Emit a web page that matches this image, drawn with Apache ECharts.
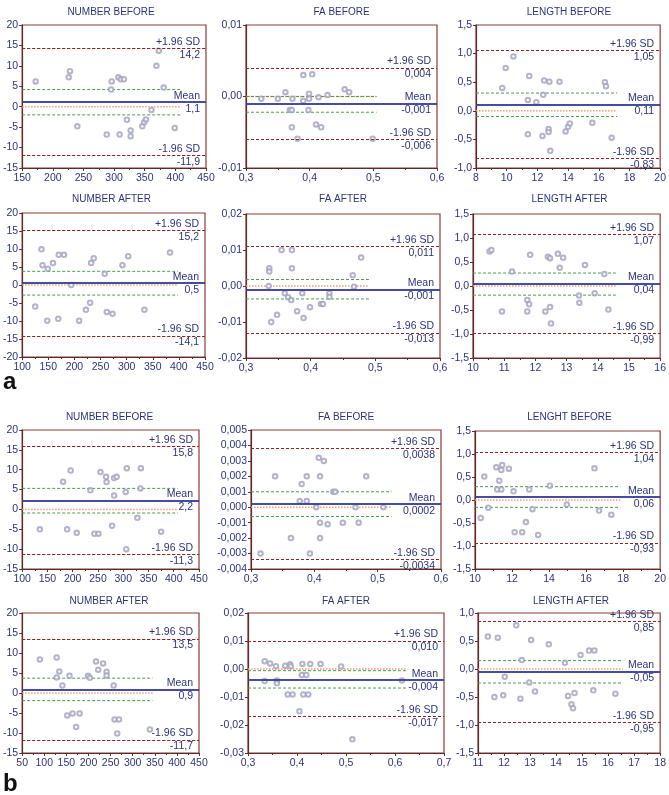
<!DOCTYPE html>
<html><head><meta charset="utf-8">
<script src="https://cdn.jsdelivr.net/npm/echarts@6/dist/echarts.min.js"></script>
<style>html,body{margin:0;padding:0;background:#fff}#c{width:669px;height:795px}</style>
</head><body><div id="c"></div>
<script>
// ================= DATA =================
const titles = ['NUMBER BEFORE','FA BEFORE','LENGTH BEFORE','NUMBER AFTER','FA AFTER','LENGTH AFTER',
                'NUMBER BEFORE','FA BEFORE','LENGHT BEFORE','NUMBER AFTER','FA AFTER','LENGTH AFTER'];
const panelLetters = ['a','b'];
const limitNames = ['+1.96 SD','Mean','-1.96 SD'];

// (a) NUMBER BEFORE
const aNumBefore_x = [172,228,226,240,288,295,296,307,311,316,309,321,327,327,346,349,352,361,369,373,381,399];
const aNumBefore_y = [6.2,8.7,7.2,-4.8,-6.8,4.2,6.2,7.2,6.7,6.7,-6.8,-3.2,-5.8,-7.2,-4.8,-3.8,-3.1,-0.8,10.0,13.7,4.7,-5.2];
const aNumBefore_lim = [14.2,1.1,-11.9];
const aNumBefore_ci = [4.2,-2.0];
const aNumBefore_ciEnd = 410;
const aNumBefore_xTicks = [150,450,50];
const aNumBefore_yTicks = [-15,20,5];

// (a) FA BEFORE
const aFaBefore_x = [0.324,0.350,0.362,0.373,0.369,0.372,0.372,0.381,0.390,0.390,0.398,0.399,0.399,0.404,0.410,0.418,0.414,0.428,0.455,0.462,0.499];
const aFaBefore_y = [-0.0003,-0.0003,0.0006,-0.0003,-0.0019,-0.0019,-0.0043,-0.0059,0.0030,-0.0006,-0.0019,0.0004,-0.0003,0.0031,-0.0039,-0.0043,-0.0001,0.0002,0.0010,0.0006,-0.0059];
const aFaBefore_lim = [0.004,-0.001,-0.006];
const aFaBefore_ci = [0.0000,-0.0022];
const aFaBefore_ciEnd = 0.505;
const aFaBefore_xTicks = [0.3,0.6,0.1];
const aFaBefore_yTicks = [-0.01,0.01,0.01];

// (a) LENGTH BEFORE
const aLenBefore_x = [9.71,9.93,10.44,11.38,11.47,11.38,11.93,12.38,12.44,12.33,12.73,12.73,12.78,12.84,13.44,13.84,14.0,14.11,15.58,16.4,16.47,16.84];
const aLenBefore_y = [0.40,0.75,0.95,0.19,0.61,-0.41,0.15,0.28,0.53,-0.44,-0.32,-0.37,0.51,-0.70,0.51,-0.36,-0.28,-0.22,-0.21,0.50,0.43,-0.47];
const aLenBefore_lim = [1.05,0.11,-0.83];
const aLenBefore_ci = [0.31,-0.10];
const aLenBefore_ciEnd = 17.2;
const aLenBefore_xTicks = [8,20,2];
const aLenBefore_yTicks = [-1.0,1.5,0.5];

// (a) NUMBER AFTER
const aNumAfter_x = [125,137,139,148,149,159,169,170,180,194,209,222,230,232,237,258,262,273,292,303,334,383];
const aNumAfter_y = [-6.0,9.9,5.5,-9.9,4.5,6.1,-9.4,8.4,8.4,0,-9.9,-6.9,-4.9,6.1,7.4,3.1,-7.5,-8.0,5.5,8.0,-6.9,9.0];
const aNumAfter_lim = [15.2,0.5,-14.1];
const aNumAfter_ci = [3.8,-2.8];
const aNumAfter_ciEnd = 398;
const aNumAfter_xTicks = [100,450,50];
const aNumAfter_yTicks = [-20,20,5];

// (a) FA AFTER
const aFaAfter_x = [0.335,0.336,0.336,0.339,0.348,0.355,0.360,0.365,0.370,0.371,0.371,0.379,0.387,0.389,0.399,0.416,0.419,0.429,0.429,0.465,0.467,0.478];
const aFaAfter_y = [0,0.0049,0.0040,-0.0100,-0.0080,0.0100,-0.0020,-0.0031,-0.0039,0.0049,0.0100,-0.0070,-0.0020,-0.0089,-0.0059,-0.0050,-0.0050,-0.0020,-0.0030,0.0030,-0.0002,0.0079];
const aFaAfter_lim = [0.011,-0.001,-0.013];
const aFaAfter_ci = [0.0018,-0.0036];
const aFaAfter_ciEnd = 0.49;
const aFaAfter_xTicks = [0.3,0.6,0.1];
const aFaAfter_yTicks = [-0.02,0.02,0.01];

// (a) LENGTH AFTER
const aLenAfter_x = [10.53,10.59,10.93,11.25,11.74,11.74,11.80,11.83,12.32,12.40,12.47,12.47,12.50,12.72,12.78,12.89,13.40,13.41,13.59,13.90,14.21,14.34];
const aLenAfter_y = [0.72,0.75,-0.53,0.30,-0.29,-0.53,-0.38,0.65,-0.53,0.61,0.58,-0.44,-0.78,0.67,0.38,0.59,-0.20,-0.35,0.44,-0.15,0.25,-0.49];
const aLenAfter_lim = [1.07,0.04,-0.99];
const aLenAfter_ci = [0.27,-0.19];
const aLenAfter_ciEnd = 14.58;
const aLenAfter_xTicks = [10,16,1];
const aLenAfter_yTicks = [-1.5,1.5,0.5];

// (b) NUMBER BEFORE
const bNumBefore_x = [135,181,189,196,208,235,243,251,255,266,267,278,282,282,287,305,307,306,328,335,334,375];
const bNumBefore_y = [-5.0,7.0,-5.0,9.8,-5.9,4.8,-6.1,-6.1,9.4,8.2,6.9,-4.1,7.9,3.5,8.2,4.4,10.4,-10.0,-2.1,10.4,5.3,-5.6];
const bNumBefore_lim = [15.8,2.2,-11.3];
const bNumBefore_ci = [5.3,-0.9];
const bNumBefore_ciEnd = 408;
const bNumBefore_xTicks = [100,450,50];
const bNumBefore_yTicks = [-15,20,5];

// (b) FA BEFORE
const bFaBefore_x = [0.315,0.338,0.363,0.377,0.380,0.388,0.388,0.393,0.403,0.407,0.409,0.409,0.409,0.415,0.421,0.430,0.433,0.445,0.465,0.470,0.482,0.509];
const bFaBefore_y = [-0.0030,0.0020,-0.0020,0.0004,0.0015,0.0020,0.0004,-0.0030,0.0000,0.0032,-0.0010,-0.0020,0.0020,0.0030,-0.0011,0.0010,0.0010,-0.0010,0.0000,-0.0010,0.0020,0.0000];
const bFaBefore_lim = [0.0038,0.0002,-0.0034];
const bFaBefore_ci = [0.0010,-0.0006];
const bFaBefore_ciEnd = 0.522;
const bFaBefore_xTicks = [0.3,0.6,0.1];
const bFaBefore_yTicks = [-0.004,0.005,0.001];

// (b) LENGHT BEFORE
const bLenBefore_x = [10.31,10.50,10.72,11.15,11.20,11.31,11.42,11.42,11.47,11.83,12.08,12.14,12.55,12.75,12.93,13.10,13.41,14.04,14.96,16.45,16.70,17.36];
const bLenBefore_y = [-0.39,0.51,-0.17,0.71,0.23,0.42,0.23,0.65,0.76,0.68,0.19,-0.70,-0.70,-0.48,0.23,-0.20,-0.76,0.31,-0.10,0.69,-0.23,-0.32];
const bLenBefore_lim = [1.04,0.06,-0.93];
const bLenBefore_ci = [0.29,-0.16];
const bLenBefore_ciEnd = 17.85;
const bLenBefore_xTicks = [10,20,2];
const bLenBefore_yTicks = [-1.5,1.5,0.5];

// (b) NUMBER AFTER
const bNumAfter_x = [90,128,134,128,141,157,199,203,217,222,233,241,241,257,152,164,180,172,259,269,265,339];
const bNumAfter_y = [8.4,8.9,5.4,3.9,1.9,4.3,4.3,3.8,7.9,5.8,7.4,5.3,4.4,1.9,-5.6,-5.1,-5.1,-8.5,-6.6,-6.6,-10.1,-9.1];
const bNumAfter_lim = [13.5,0.9,-11.7];
const bNumAfter_ci = [3.7,-1.9];
const bNumAfter_ciEnd = 345;
const bNumAfter_xTicks = [50,450,50];
const bNumAfter_yTicks = [-15,20,5];

// (b) FA AFTER
const bFaAfter_x = [0.334,0.345,0.357,0.376,0.386,0.387,0.411,0.427,0.448,0.490,0.334,0.359,0.359,0.410,0.419,0.381,0.391,0.413,0.423,0.405,0.513,0.614];
const bFaAfter_y = [0.0028,0.0020,0.0010,0.0012,0.0017,0.0010,0.0018,0.0018,0.0018,0.0009,-0.0043,-0.0041,-0.0051,-0.0021,-0.0021,-0.0091,-0.0091,-0.0091,-0.0091,-0.0151,-0.0251,-0.0041];
const bFaAfter_lim = [0.010,-0.004,-0.017];
const bFaAfter_ci = [-0.0006,-0.0068];
const bFaAfter_ciEnd = 0.625;
const bFaAfter_xTicks = [0.3,0.7,0.1];
const bFaAfter_yTicks = [-0.03,0.02,0.01];

// (b) LENGTH AFTER
const bLenAfter_x = [11.38,11.76,11.63,11.97,12.03,12.47,12.63,12.68,12.97,13.04,13.19,13.72,14.34,14.46,14.59,14.65,14.71,14.94,15.27,15.47,15.43,16.28];
const bLenAfter_y = [0.58,0.56,-0.50,-0.47,-0.14,0.78,-0.53,0.16,-0.24,0.52,-0.40,0.44,0.11,-0.48,-0.63,-0.70,-0.43,0.25,0.33,0.33,-0.38,-0.44];
const bLenAfter_lim = [0.85,-0.05,-0.95];
const bLenAfter_ci = [0.15,-0.25];
const bLenAfter_ciEnd = 16.57;
const bLenAfter_xTicks = [11,18,1];
const bLenAfter_yTicks = [-1.5,1.0,0.5];

// label decimals: [x axis, y axis, limit values]
const decimals = [[0,0,1],[1,2,3],[0,1,2],[0,0,1],[1,2,3],[0,1,2],[0,0,1],[1,3,4],[0,1,2],[0,0,1],[1,2,3],[0,1,2]];

const panels = [
  [aNumBefore_x,aNumBefore_y,aNumBefore_lim,aNumBefore_ci,aNumBefore_ciEnd,aNumBefore_xTicks,aNumBefore_yTicks],
  [aFaBefore_x,aFaBefore_y,aFaBefore_lim,aFaBefore_ci,aFaBefore_ciEnd,aFaBefore_xTicks,aFaBefore_yTicks],
  [aLenBefore_x,aLenBefore_y,aLenBefore_lim,aLenBefore_ci,aLenBefore_ciEnd,aLenBefore_xTicks,aLenBefore_yTicks],
  [aNumAfter_x,aNumAfter_y,aNumAfter_lim,aNumAfter_ci,aNumAfter_ciEnd,aNumAfter_xTicks,aNumAfter_yTicks],
  [aFaAfter_x,aFaAfter_y,aFaAfter_lim,aFaAfter_ci,aFaAfter_ciEnd,aFaAfter_xTicks,aFaAfter_yTicks],
  [aLenAfter_x,aLenAfter_y,aLenAfter_lim,aLenAfter_ci,aLenAfter_ciEnd,aLenAfter_xTicks,aLenAfter_yTicks],
  [bNumBefore_x,bNumBefore_y,bNumBefore_lim,bNumBefore_ci,bNumBefore_ciEnd,bNumBefore_xTicks,bNumBefore_yTicks],
  [bFaBefore_x,bFaBefore_y,bFaBefore_lim,bFaBefore_ci,bFaBefore_ciEnd,bFaBefore_xTicks,bFaBefore_yTicks],
  [bLenBefore_x,bLenBefore_y,bLenBefore_lim,bLenBefore_ci,bLenBefore_ciEnd,bLenBefore_xTicks,bLenBefore_yTicks],
  [bNumAfter_x,bNumAfter_y,bNumAfter_lim,bNumAfter_ci,bNumAfter_ciEnd,bNumAfter_xTicks,bNumAfter_yTicks],
  [bFaAfter_x,bFaAfter_y,bFaAfter_lim,bFaAfter_ci,bFaAfter_ciEnd,bFaAfter_xTicks,bFaAfter_yTicks],
  [bLenAfter_x,bLenAfter_y,bLenAfter_lim,bLenAfter_ci,bLenAfter_ciEnd,bLenAfter_xTicks,bLenAfter_yTicks]
];

// ================= LAYOUT / STYLE =================
const boxes = [ // left, top, right, bottom
  [16,25,206,168],[246,25,437,168],[476,25,662,168],
  [18,213,205,357],[246,214,440,358],[473,214,666,358],
  [20,430,199,569],[251,430,441,569],[475,431,664,569],
  [19,613,199,753],[248,613,444,753],[478,613,664,753]
];
const titleY = [12,199,417,601];
const letterPos = [[3,382],[3,784]];
const FONT = '"Liberation Sans", Arial, sans-serif';
const TXT = '#2b3478';
const AX = '#5e2a2a';

function fmt(v, d) {
  if (Math.abs(v) < 1e-12) v = 0;
  return v.toFixed(d).replace('.', ',');
}

const option = {animation:false, backgroundColor:'#ffffff', grid:[], xAxis:[], yAxis:[], series:[], graphic:[]};

panels.forEach((p, i) => {
  const [xs, ys, lim, ci, ciEnd, xt, yt] = p;
  const b = boxes[i];
  const d = decimals[i];
  option.grid.push({left:b[0], top:b[1], width:b[2]-b[0], height:b[3]-b[1], show:true,
    borderColor:'#8a3b35', borderWidth:1.2, backgroundColor:'rgba(0,0,0,0)'});
  option.xAxis.push({type:'value', gridIndex:i, min:xt[0], max:xt[1], interval:xt[2],
    splitLine:{show:false},
    axisLine:{onZero:false, lineStyle:{color:AX, width:1.2}},
    axisTick:{length:3, lineStyle:{color:AX}},
    minorTick:{show:true, splitNumber:2, length:2, lineStyle:{color:AX}},
    axisLabel:{fontSize:10.5, color:TXT, margin:5, fontFamily:FONT, showMinLabel:true, showMaxLabel:true,
      formatter:(v)=>fmt(v, d[0])}});
  option.yAxis.push({type:'value', gridIndex:i, min:yt[0], max:yt[1], interval:yt[2],
    splitLine:{show:false},
    axisLine:{onZero:false, lineStyle:{color:AX, width:1.2}},
    axisTick:{length:3, lineStyle:{color:AX}},
    axisLabel:{fontSize:10.5, color:TXT, margin:4, fontFamily:FONT, showMinLabel:true, showMaxLabel:true,
      formatter:(v)=>fmt(v, d[1])}});

  const lab = (text, pos) => ({show:true, position:pos, formatter:text, color:TXT, fontSize:10.5,
    fontFamily:FONT, distance:[6,1]});
  const sdStyle = {color:'#8c2626', width:1.2, type:[3,2]};
  const meanStyle = {color:'#3a3f9e', width:1.6, type:'solid'};
  const mlData = [];
  lim.forEach((v, k) => {
    const st = k === 1 ? meanStyle : sdStyle;
    mlData.push({yAxis:v, lineStyle:st, label:lab(limitNames[k], 'insideEndTop')});
    mlData.push({yAxis:v, lineStyle:st, label:lab(fmt(v, d[2]), 'insideEndBottom')});
  });

  // zero line (dotted orange)
  option.series.push({type:'line', xAxisIndex:i, yAxisIndex:i, silent:true, symbol:'none', z:2,
    data:[[xt[0],0],[ciEnd,0]], lineStyle:{color:'#eea070', width:1.6, type:[1.5,1.5]}});
  // CI lines (green dashed)
  ci.forEach(v => {
    option.series.push({type:'line', xAxisIndex:i, yAxisIndex:i, silent:true, symbol:'none', z:2,
      data:[[xt[0],v],[ciEnd,v]], lineStyle:{color:'#4f9a52', width:1, type:[3,2]}});
  });
  // points + limits
  option.series.push({type:'scatter', xAxisIndex:i, yAxisIndex:i, silent:true, z:4,
    symbol:'emptyCircle', symbolSize:4.5,
    itemStyle:{color:'#a0a0bc', borderWidth:0.8},
    data: xs.map((x, k) => [x, ys[k]]),
    markLine:{silent:true, precision:8, symbol:['none','none'], animation:false, data:mlData}});

  option.graphic.push({type:'text', x:(b[0]+b[2])/2, y:titleY[Math.floor(i/3)],
    style:{text:titles[i], textAlign:'center', textVerticalAlign:'middle', font:'10px ' + FONT, fill:TXT}});
});

panelLetters.forEach((t, k) => {
  option.graphic.push({type:'text', x:letterPos[k][0], y:letterPos[k][1],
    style:{text:t, textAlign:'left', textVerticalAlign:'middle', font:'bold 24px ' + FONT, fill:'#111'}});
});

const chart = echarts.init(document.getElementById('c'));
chart.setOption(option);
</script>
</body></html>
